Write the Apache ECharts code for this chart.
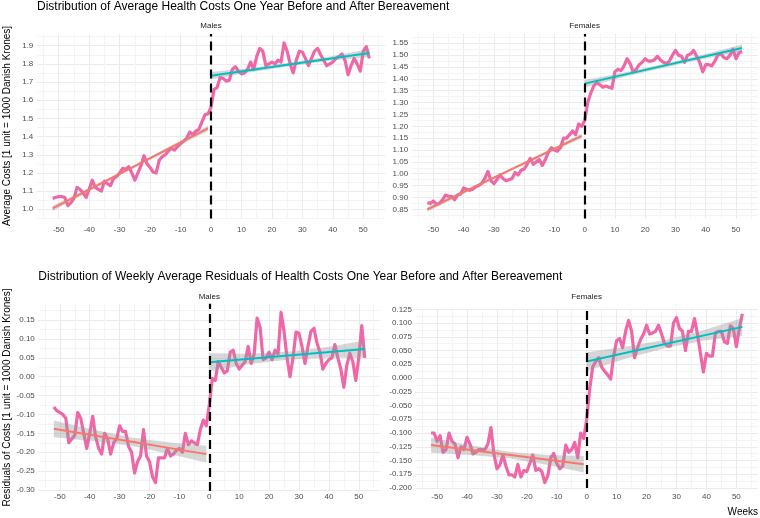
<!DOCTYPE html>
<html>
<head>
<meta charset="utf-8">
<script src="https://cdn.jsdelivr.net/npm/echarts@6/dist/echarts.min.js"></script>
<style>
html,body{margin:0;padding:0;background:#fff;}
#chart{width:760px;height:518px;}
</style>
</head>
<body>
<div id="chart"></div>
<script>
// ---------------- DATA ----------------
const weeks = [-52,-51,-50,-49,-48,-47,-46,-45,-44,-43,-42,-41,-40,-39,-38,-37,-36,-35,-34,-33,-32,-31,-30,-29,-28,-27,-26,-25,-24,-23,-22,-21,-20,-19,-18,-17,-16,-15,-14,-13,-12,-11,-10,-9,-8,-7,-6,-5,-4,-3,-2,-1,
  0,1,2,3,4,5,6,7,8,9,10,11,12,13,14,15,16,17,18,19,20,21,22,23,24,25,26,27,28,29,30,31,32,33,34,35,36,37,38,39,40,41,42,43,44,45,46,47,48,49,50,51,52];

const malesCost = [1.06,1.065,1.07,1.07,1.065,1.02,1.035,1.06,1.12,1.11,
  1.09,1.065,1.11,1.16,1.12,1.11,1.10,1.155,1.14,1.13,
  1.17,1.18,1.20,1.225,1.22,1.235,1.20,1.16,1.20,1.24,
  1.295,1.25,1.23,1.205,1.20,1.27,1.29,1.30,1.32,1.335,
  1.325,1.345,1.36,1.375,1.39,1.425,1.41,1.43,1.44,1.48,
  1.52,1.525,
  1.56,1.66,1.67,1.725,1.72,1.705,1.71,1.77,1.785,1.76,
  1.745,1.75,1.77,1.81,1.77,1.84,1.885,1.87,1.79,1.80,
  1.81,1.80,1.82,1.81,1.915,1.87,1.80,1.75,1.82,1.87,
  1.865,1.83,1.79,1.83,1.87,1.885,1.85,1.82,1.79,1.80,
  1.81,1.83,1.84,1.855,1.82,1.74,1.79,1.83,1.80,1.76,
  1.87,1.895,1.83];

const femalesCost = [0.878,0.875,0.885,0.87,0.875,0.89,0.91,0.905,0.905,0.89,
  0.91,0.915,0.94,0.935,0.93,0.935,0.945,0.95,0.96,0.98,
  1.01,0.97,0.958,0.975,0.995,0.98,0.97,0.975,0.98,1.005,
  0.995,1.015,1.02,1.04,1.065,1.04,1.05,1.06,1.035,1.06,
  1.09,1.11,1.10,1.095,1.11,1.15,1.15,1.165,1.18,1.165,
  1.21,1.20,
  1.225,1.30,1.34,1.37,1.385,1.375,1.365,1.37,1.365,1.36,
  1.43,1.44,1.435,1.455,1.485,1.465,1.43,1.44,1.46,1.47,
  1.485,1.475,1.475,1.48,1.495,1.48,1.47,1.465,1.475,1.50,
  1.52,1.50,1.495,1.47,1.50,1.505,1.52,1.495,1.47,1.43,
  1.46,1.46,1.455,1.475,1.50,1.505,1.49,1.485,1.50,1.525,
  1.485,1.51,1.515];

const malesResid = [-0.08,-0.09,-0.095,-0.10,-0.11,-0.175,-0.165,-0.155,-0.095,-0.11,
  -0.15,-0.19,-0.15,-0.105,-0.16,-0.19,-0.205,-0.15,-0.165,-0.205,
  -0.175,-0.165,-0.13,-0.145,-0.145,-0.185,-0.20,-0.255,-0.225,-0.21,
  -0.14,-0.21,-0.225,-0.265,-0.28,-0.215,-0.215,-0.215,-0.19,-0.21,
  -0.205,-0.195,-0.19,-0.20,-0.15,-0.18,-0.17,-0.175,-0.18,-0.14,
  -0.115,-0.13,
  -0.075,-0.005,-0.01,0.04,0.025,0.01,0.015,0.065,0.07,0.035,
  0.02,0.03,0.04,0.08,0.035,0.06,0.155,0.13,0.045,0.05,
  0.065,0.045,0.07,0.06,0.17,0.12,0.05,0.0,0.05,0.118,
  0.115,0.08,0.035,0.08,0.12,0.128,0.09,0.065,0.02,0.035,
  0.045,0.05,0.085,0.05,0.02,-0.028,0.03,0.062,0.04,-0.01,
  0.05,0.135,0.05];

const femalesResid = [-0.10,-0.10,-0.115,-0.105,-0.135,-0.13,-0.10,-0.115,-0.12,-0.145,
  -0.125,-0.13,-0.108,-0.12,-0.138,-0.135,-0.13,-0.13,-0.13,-0.12,
  -0.09,-0.138,-0.165,-0.158,-0.14,-0.16,-0.176,-0.176,-0.18,-0.157,
  -0.18,-0.168,-0.17,-0.155,-0.14,-0.168,-0.165,-0.17,-0.19,-0.178,
  -0.145,-0.137,-0.155,-0.165,-0.16,-0.122,-0.135,-0.13,-0.117,-0.145,
  -0.10,-0.11,
  -0.075,-0.02,0.02,0.03,0.037,0.02,0.012,0.006,-0.002,0.04,
  0.068,0.072,0.055,0.085,0.105,0.085,0.037,0.055,0.07,0.08,
  0.096,0.08,0.082,0.085,0.096,0.08,0.063,0.058,0.058,0.10,
  0.11,0.09,0.085,0.05,0.085,0.085,0.108,0.08,0.045,0.011,
  0.045,0.04,0.04,0.082,0.085,0.085,0.066,0.063,0.095,0.09,
  0.057,0.09,0.117];

// fitted regression lines (endpoints)
const fitWeeksPre = [-52, -1];
const fitWeeksPost = [0, 52];
const malesCostFitPre = [1.005, 1.445];
const malesCostFitPost = [1.735, 1.86];
const femalesCostFitPre = [0.85, 1.16];
const femalesCostFitPost = [1.38, 1.53];
const malesResidFitPre = [-0.138, -0.205];
const malesResidFitPost = [0.038, 0.073];
const femalesResidFitPre = [-0.122, -0.157];
const femalesResidFitPost = [0.03, 0.093];

// confidence bands (lower / upper) read at these weeks
const bandWeeksPre = [-52, -39, -26, -13, -1];
const bandWeeksPost = [0, 13, 26, 39, 52];
const malesCostBandPreLo = [0.99, 1.107, 1.222, 1.331, 1.43];
const malesCostBandPreHi = [1.02, 1.127, 1.236, 1.351, 1.46];
const malesCostBandPostLo = [1.715, 1.754, 1.789, 1.817, 1.838];
const malesCostBandPostHi = [1.755, 1.778, 1.807, 1.841, 1.882];
const femalesCostBandPreLo = [0.84, 0.922, 1.003, 1.08, 1.15];
const femalesCostBandPreHi = [0.86, 0.936, 1.013, 1.094, 1.17];
const femalesCostBandPostLo = [1.365, 1.408, 1.447, 1.483, 1.515];
const femalesCostBandPostHi = [1.395, 1.427, 1.463, 1.502, 1.545];
const malesResidBandPreLo = [-0.16, -0.170, -0.183, -0.205, -0.227];
const malesResidBandPreHi = [-0.116, -0.140, -0.161, -0.174, -0.183];
const malesResidBandPostLo = [0.014, 0.033, 0.045, 0.05, 0.05];
const malesResidBandPostHi = [0.062, 0.061, 0.066, 0.078, 0.096];
const femalesResidBandPreLo = [-0.136, -0.140, -0.146, -0.158, -0.172];
const femalesResidBandPreHi = [-0.108, -0.122, -0.134, -0.140, -0.142];
const femalesResidBandPostLo = [0.013, 0.035, 0.054, 0.068, 0.077];
const femalesResidBandPostHi = [0.047, 0.057, 0.069, 0.087, 0.109];

// tick labels
const xTickLabels = ['-50','-40','-30','-20','-10','0','10','20','30','40','50'];
const yTicksMalesCost = ['1.0','1.1','1.2','1.3','1.4','1.5','1.6','1.7','1.8','1.9'];
const yTicksFemalesCost = ['0.85','0.90','0.95','1.00','1.05','1.10','1.15','1.20','1.25','1.30','1.35','1.40','1.45','1.50','1.55'];
const yTicksMalesResid = ['-0.30','-0.25','-0.20','-0.15','-0.10','-0.05','0.00','0.05','0.10','0.15'];
const yTicksFemalesResid = ['-0.200','-0.175','-0.150','-0.125','-0.100','-0.075','-0.050','-0.025','0.000','0.025','0.050','0.075','0.100','0.125'];

const titleTop = 'Distribution of Average Health Costs One Year Before and After Bereavement';
const titleBottom = 'Distribution of Weekly Average Residuals of Health Costs One Year Before and After Bereavement';
const yTitleTop = 'Average Costs [1 unit = 1000 Danish Krones]';
const yTitleBottom = 'Residuals of Costs [1 unit = 1000 Danish Krones]';
const xTitle = 'Weeks';
const stripMales = 'Males';
const stripFemales = 'Females';

// ---------------- STYLE / LAYOUT ----------------
const FONT = '"Liberation Sans", Arial, Helvetica, sans-serif';
const PINK = '#ef67a7';
const RED = '#F8766D';
const CYAN = '#00BFC4';
const BAND = 'rgba(153,153,153,0.4)';
const GRID_MAJOR = '#ebebeb';
const GRID_MINOR = '#f4f4f4';

function fmt(ticks, dec) {
  return function (v) {
    const s = (Math.abs(v) < 1e-9 ? 0 : v).toFixed(dec);
    return (ticks.indexOf(s) >= 0 && Math.abs(v - Number(s)) < 1e-6) ? s : '';
  };
}

const panels = [
  { vals: malesCost, fitPre: malesCostFitPre, fitPost: malesCostFitPost,
    bPreLo: malesCostBandPreLo, bPreHi: malesCostBandPreHi, bPostLo: malesCostBandPostLo, bPostHi: malesCostBandPostHi,
    grid: {left: 36.8, right: 374.8, top: 34, bottom: 299.4},
    y: {min: 0.9488, max: 1.9644, splitNumber: 10, ticks: yTicksMalesCost, dec: 1, edges: false},
    xMargin: 7 },
  { vals: femalesCost, fitPre: femalesCostFitPre, fitPost: femalesCostFitPost,
    bPreLo: femalesCostBandPreLo, bPreHi: femalesCostBandPreHi, bPostLo: femalesCostBandPostLo, bPostHi: femalesCostBandPostHi,
    grid: {left: 411.6, right: 2.2, top: 34, bottom: 299.4},
    y: {min: 0.8108, max: 1.5892, splitNumber: 15, ticks: yTicksFemalesCost, dec: 2, edges: false},
    xMargin: 7 },
  { vals: malesResid, fitPre: malesResidFitPre, fitPost: malesResidFitPost,
    bPreLo: malesResidBandPreLo, bPreHi: malesResidBandPreHi, bPostLo: malesResidBandPostLo, bPostHi: malesResidBandPostHi,
    grid: {left: 38.3, right: 379.7, top: 303.8, bottom: 27},
    y: {min: -0.3026, max: 0.1929, splitNumber: 10, ticks: yTicksMalesResid, dec: 2, edges: false},
    xMargin: 2 },
  { vals: femalesResid, fitPre: femalesResidFitPre, fitPost: femalesResidFitPost,
    bPreLo: femalesResidBandPreLo, bPreHi: femalesResidBandPreHi, bPostLo: femalesResidBandPostLo, bPostHi: femalesResidBandPostHi,
    grid: {left: 415.5, right: 2.1, top: 309.3, bottom: 30},
    y: {min: -0.2, max: 0.125, interval: 0.025, ticks: yTicksFemalesResid, dec: 3, edges: true},
    xMargin: 5 }
];

const option = {
  animation: false,
  backgroundColor: '#ffffff',
  grid: [], xAxis: [], yAxis: [], series: [], graphic: []
};

// band polygon drawn through the axis scales (api.coord)
function bandRender(params, api) {
  if (params.dataIndex !== 0) return null;
  const n = params.dataInsideLength;
  const upper = [], lower = [];
  for (let k = 0; k < n; k++) {
    upper.push(api.coord([api.value(0, k), api.value(2, k)]));
    lower.push(api.coord([api.value(0, k), api.value(1, k)]));
  }
  const pts = upper.concat(lower.reverse());
  return {type: 'polygon', shape: {points: pts}, style: {fill: BAND}, silent: true};
}

panels.forEach(function (p, i) {
  option.grid.push(Object.assign({containLabel: false, outerBoundsMode: 'none'}, p.grid));
  option.xAxis.push({
    gridIndex: i, type: 'value', min: -57.2, max: 57.2, splitNumber: 11,
    axisLine: {show: false}, axisTick: {show: false},
    axisLabel: {color: '#4d4d4d', fontSize: 8, fontFamily: FONT, margin: p.xMargin, formatter: fmt(xTickLabels, 0)},
    splitLine: {show: true, showMinLine: false, showMaxLine: false, lineStyle: {color: GRID_MAJOR, width: 1}},
    minorTick: {show: false, splitNumber: 2},
    minorSplitLine: {show: true, lineStyle: {color: GRID_MINOR, width: 1}}
  });
  const ya = {
    gridIndex: i, type: 'value', min: p.y.min, max: p.y.max,
    axisLine: {show: false}, axisTick: {show: false},
    axisLabel: {color: '#4d4d4d', fontSize: 8, fontFamily: FONT, margin: 3.5, formatter: fmt(p.y.ticks, p.y.dec)},
    splitLine: {show: true, showMinLine: p.y.edges, showMaxLine: p.y.edges, lineStyle: {color: GRID_MAJOR, width: 1}},
    minorTick: {show: false, splitNumber: 2},
    minorSplitLine: {show: true, lineStyle: {color: GRID_MINOR, width: 1}}
  };
  if (p.y.interval) ya.interval = p.y.interval; else ya.splitNumber = p.y.splitNumber;
  option.yAxis.push(ya);

  // observed weekly averages
  option.series.push({
    type: 'line', xAxisIndex: i, yAxisIndex: i, silent: true, z: 2,
    data: weeks.map(function (w, k) { return [w, p.vals[k]]; }),
    symbol: 'none', lineStyle: {color: PINK, width: 3.2, join: 'round'},
    markLine: {silent: true, symbol: ['none', 'none'], label: {show: false}, z: 6,
      lineStyle: {color: '#000000', type: [9, 5], width: 2.2}, data: [{xAxis: 0}]}
  });
  // confidence bands
  [[bandWeeksPre, p.bPreLo, p.bPreHi], [bandWeeksPost, p.bPostLo, p.bPostHi]].forEach(function (b) {
    option.series.push({
      type: 'custom', xAxisIndex: i, yAxisIndex: i, silent: true, z: 3,
      renderItem: bandRender,
      encode: {x: 0, y: [1, 2]},
      data: b[0].map(function (w, k) { return [w, b[1][k], b[2][k]]; })
    });
  });
  // fitted lines
  option.series.push({
    type: 'line', xAxisIndex: i, yAxisIndex: i, silent: true, z: 4,
    data: fitWeeksPre.map(function (w, k) { return [w, p.fitPre[k]]; }),
    symbol: 'none', lineStyle: {color: RED, width: 2}
  });
  option.series.push({
    type: 'line', xAxisIndex: i, yAxisIndex: i, silent: true, z: 4,
    data: fitWeeksPost.map(function (w, k) { return [w, p.fitPost[k]]; }),
    symbol: 'none', lineStyle: {color: CYAN, width: 2}
  });
});

function txt(text, x, y, size, color, align, rot) {
  return {type: 'text', x: x, y: y, rotation: rot || 0, silent: true, z: 10,
    style: {text: text, fill: color, font: size + 'px ' + FONT, align: align || 'left', verticalAlign: 'middle'}};
}
option.graphic = [
  txt(titleTop, 37, 7, 12, '#000000', 'left'),
  txt(titleBottom, 38.3, 277, 12, '#000000', 'left'),
  txt(stripMales, 211, 26, 8, '#1a1a1a', 'center'),
  txt(stripFemales, 584.7, 26, 8, '#1a1a1a', 'center'),
  txt(stripMales, 209.3, 296.5, 8, '#1a1a1a', 'center'),
  txt(stripFemales, 586.7, 296.5, 8, '#1a1a1a', 'center'),
  txt(yTitleTop, 7, 126, 10, '#000000', 'center', Math.PI / 2),
  txt(yTitleBottom, 7, 397.5, 10, '#000000', 'center', Math.PI / 2),
  txt(xTitle, 758, 512.5, 10, '#000000', 'right')
];

const chart = echarts.init(document.getElementById('chart'), null, {renderer: 'canvas'});
chart.setOption(option);
</script>
</body>
</html>
